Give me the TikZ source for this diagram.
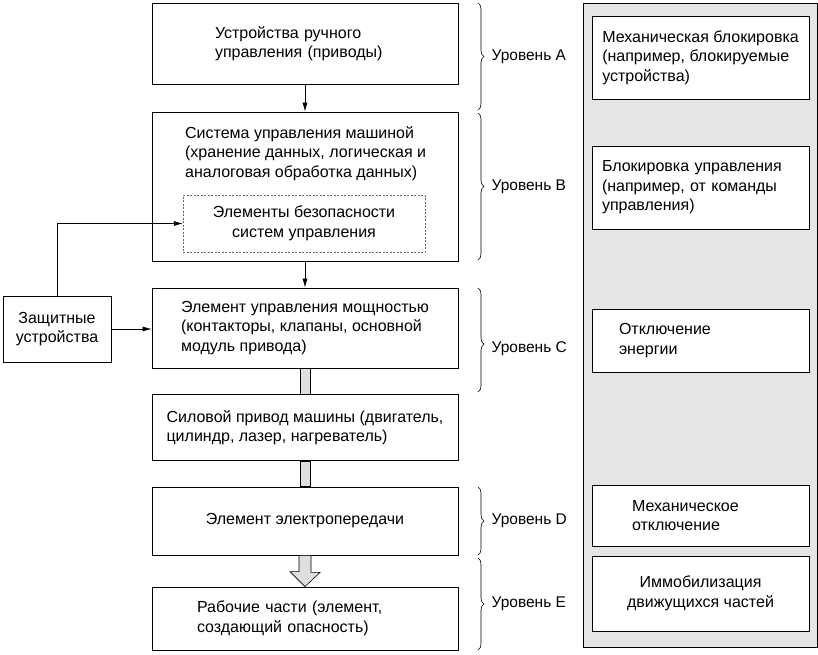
\documentclass[tikz,border=0pt]{standalone}
\usepackage{fontspec}
\setmainfont{Liberation Sans}
\usetikzlibrary{arrows.meta,positioning,calc,decorations.pathreplacing}

\begin{document}
\begin{tikzpicture}[x=1pt,y=-1pt,font=\fontsize{15.5}{19.5}\selectfont,
  txt/.style={font=\fontsize{16}{19.5}\selectfont},
  box/.style={txt,draw,line width=0.8pt,minimum width=306pt,align=left},
  rbox/.style={txt,draw,line width=0.8pt,fill=white,minimum width=217pt,align=left},
  arr/.style={-{Latex[length=9pt,width=5pt]},line width=0.6pt},
  shaft/.style={draw,fill=gray!25,line width=0.6pt},
  brc/.style={decorate,decoration={brace,amplitude=6pt},line width=0.6pt},
  lvl/.style={right=10pt}]
  \useasboundingbox (0,0) rectangle (818,654);
  % right column
  \node[draw,fill=gray!20,line width=0.8pt,minimum width=234pt,minimum height=644pt] (panel) at (700,325) {};
  \node[rbox,minimum height=83pt] (mech) at (700.5,57.5) {Механическая блокировка\\(например, блокируемые\\устройства)};
  \node[rbox,minimum height=83pt,text width=197pt,inner xsep=10pt] (ctlblk) at (700.5,187.5) {Блокировка управления\\(например, от команды\\управления)};
  \node[rbox,minimum height=63pt,text width=163pt,inner xsep=27pt] (enoff) at (700.5,340.5) {Отключение\\энергии};
  \node[rbox,minimum height=61pt,text width=137pt,inner xsep=40pt] (mechoff) at (700.5,515.5) {Механическое\\отключение};
  \node[rbox,minimum height=75pt,align=center] (immob) at (700.5,593.5) {Иммобилизация\\движущихся частей};
  % main column
  \node[box,minimum height=81pt,text width=180pt,inner xsep=63pt] (man) at (305,43.5) {Устройства ручного\\управления (приводы)};
  \node[box,minimum height=149pt] (ctl) at (305,186.5) {};
  \node[txt,below right=11pt and 30pt of ctl.north west,align=left] (ctltxt) {Система управления машиной\\(хранение данных, логическая и\\аналоговая обработка данных)};
  \node[txt,draw=black!60,dash pattern=on 2pt off 1.5pt,minimum width=242pt,minimum height=57pt,align=center] (safe) at (304,223.5) {Элементы безопасности\\систем управления};
  \node[box,minimum height=80pt] (pwr) at (305,328) {Элемент управления мощностью\\(контакторы, клапаны, основной\\модуль привода)};
  \node[box,minimum height=66pt] (drv) at (305,427.5) {Силовой привод машины (двигатель,\\цилиндр, лазер, нагреватель)};
  \node[box,minimum height=68pt] (elec) at (305,521) {Элемент электропередачи};
  \node[box,minimum height=63pt,text width=216pt,inner xsep=45pt] (work) at (305,618.5) {Рабочие части (элемент,\\создающий опасность)};
  \node[txt,draw,line width=0.8pt,minimum width=108pt,minimum height=66pt,align=center] (prot) at (57,329) {Защитные\\устройства};
  % connectors
  \draw[arr] (man) -- (ctl);
  \draw[arr] (ctl) -- (pwr);
  \draw[arr] (prot.east) -- (prot.east -| pwr.west);
  \draw[arr] (prot.north) |- (safe.west);
  \draw[shaft] ($(pwr.south)+(-5,0)$) rectangle ($(drv.north)+(5,0)$);
  \draw[shaft] ($(drv.south)+(-5,0)$) rectangle ($(elec.north)+(5,0)$);
  \draw[shaft] ($(elec.south)+(-6,0)$) -- ++(12,0) -- ++(0,17) -- ++(9,0) -- (work.north) -- ++(-15,-15) -- ++(9,0) -- cycle;
  % levels
  \coordinate (a1) at (478,3);   \coordinate (a2) at (478,110);
  \coordinate (b1) at (478,113); \coordinate (b2) at (478,260);
  \coordinate (c1) at (478,288); \coordinate (c2) at (478,392);
  \coordinate (d1) at (478,487); \coordinate (d2) at (478,555);
  \coordinate (e1) at (478,558); \coordinate (e2) at (478,650);
  \draw[brc] (a1) -- node[lvl] (la) {Уровень A} (a2);
  \draw[brc] (b1) -- node[lvl] (lb) {Уровень B} (b2);
  \draw[brc,decoration={aspect=0.54}] (c1) -- node[lvl,pos=0.58] (lc) {Уровень C} (c2);
  \draw[brc] (d1) -- node[lvl] (ld) {Уровень D} (d2);
  \draw[brc] (e1) -- node[lvl] (le) {Уровень E} (e2);
\end{tikzpicture}
\end{document}
